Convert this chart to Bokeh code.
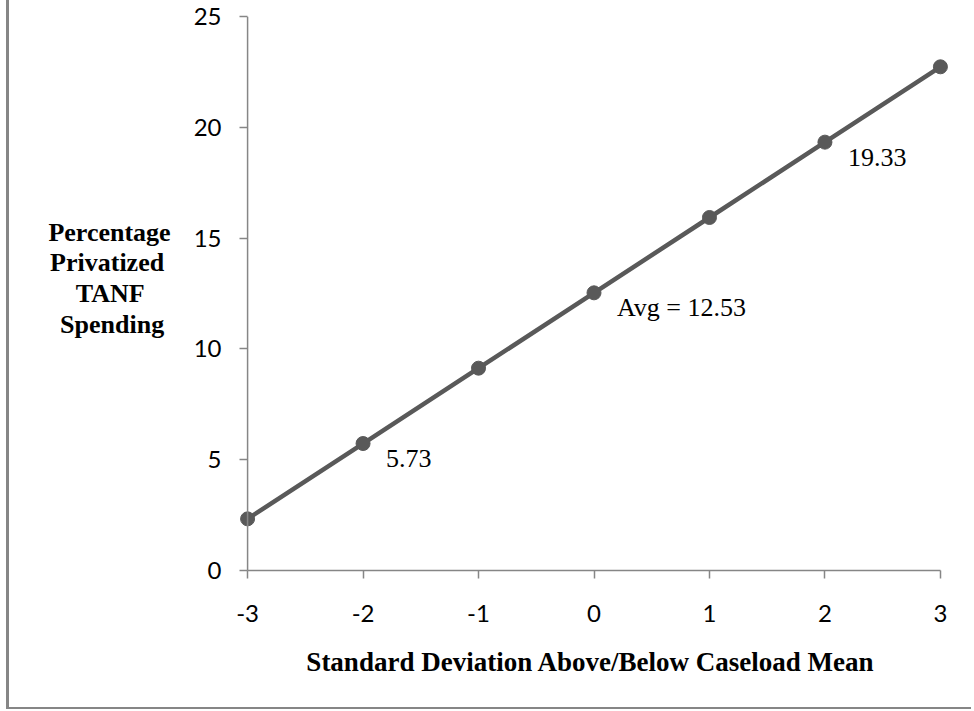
from bokeh.plotting import figure
from bokeh.models import ColumnDataSource, FixedTicker, Label, Range1d, Title, Span
from bokeh.embed import file_html
from bokeh.resources import INLINE

# Standard deviations of caseload from the mean, and predicted privatized share
sd_from_mean = [-3, -2, -1, 0, 1, 2, 3]
pct_privatized = [2.33, 5.73, 9.13, 12.53, 15.93, 19.33, 22.73]

# Points that carry a value label
labelled_idx = [1, 3, 5]
label_texts = ["5.73", "Avg = 12.53", "19.33"]

y_ticks = [0, 5, 10, 15, 20, 25]
x_ticks = [-3, -2, -1, 0, 1, 2, 3]

y_title_lines = ["Percentage", "Privatized", "TANF", "Spending"]
x_title = "Standard Deviation Above/Below  Caseload Mean"

AXIS_GRAY = "#868686"
LINE_GRAY = "#595959"

# a little horizontal room so the end markers are not cut by the frame
pad = 0.07
p = figure(
    width=965, height=709,
    x_range=Range1d(x_ticks[0] - pad, x_ticks[-1] + pad),
    y_range=Range1d(y_ticks[0], y_ticks[-1]),
    output_backend="svg", toolbar_location=None,
    min_border_left=230, min_border_right=26,
    min_border_top=16, min_border_bottom=139,
)
p.margin = (0, 0, 0, 6)
p.styles = {"border-left": "3px solid #868686", "border-bottom": "2px solid #868686"}
p.outline_line_color = None
p.grid.grid_line_color = None
p.background_fill_color = "white"
p.border_fill_color = "white"

for ax in (p.xaxis[0], p.yaxis[0]):
    ax.axis_line_color = AXIS_GRAY
    ax.axis_line_width = 1.5
    ax.major_tick_line_color = AXIS_GRAY
    ax.major_tick_line_width = 1.5
    ax.minor_tick_line_color = None
    ax.major_label_text_font = "Lato"
    ax.major_label_text_font_size = "24px"
    ax.major_label_text_color = "black"

p.xaxis.ticker = FixedTicker(ticks=x_ticks)
p.xaxis.bounds = (x_ticks[0], x_ticks[-1])
p.xaxis.major_tick_in = 0
p.xaxis.major_tick_out = 8
p.xaxis.major_label_overrides = {t: str(t) for t in x_ticks}
p.xaxis.major_label_standoff = 26

# vertical axis line sits on x = -3; ticks reach from the frame edge to it
p.yaxis.ticker = FixedTicker(ticks=y_ticks)
p.yaxis.axis_line_color = None
p.yaxis.major_tick_in = 8
p.yaxis.major_tick_out = 0
p.yaxis.major_label_standoff = 18
p.add_layout(Span(location=x_ticks[0], dimension="height",
                  line_color=AXIS_GRAY, line_width=1.5))

# Y-axis title, horizontal and stacked; the axis right-aligns its lines,
# so shorter lines get trailing no-break spaces to sit centred
NBSP = "\u00a0"
centring = [0, 1, 4, 1]
y_label = "\n".join(t + NBSP * n for t, n in zip(y_title_lines, centring)) + "\n"
p.yaxis.axis_label = y_label
p.yaxis.axis_label_orientation = "horizontal"
p.yaxis.axis_label_text_font = "Liberation Serif"
p.yaxis.axis_label_text_font_style = "bold"
p.yaxis.axis_label_text_font_size = "26px"
p.yaxis.axis_label_text_line_height = 1.06
p.yaxis.axis_label_text_color = "black"
p.yaxis.axis_label_standoff = 20

src = ColumnDataSource(dict(x=sd_from_mean, y=pct_privatized))
p.line("x", "y", source=src, line_color=LINE_GRAY, line_width=4.5)
p.scatter("x", "y", source=src, size=14, fill_color=LINE_GRAY, line_color=LINE_GRAY)

for i, txt in zip(labelled_idx, label_texts):
    p.add_layout(Label(
        x=sd_from_mean[i], y=pct_privatized[i], text=txt,
        x_offset=23, y_offset=-15,
        text_font="Liberation Serif", text_font_size="26px",
        text_baseline="middle", text_align="left", text_color="black",
    ))

# X-axis title
p.add_layout(Title(
    text=x_title,
    align="center", standoff=40,
    text_font="Liberation Serif", text_font_style="bold", text_font_size="27px",
    text_color="black",
), "below")

open("out.html", "w").write(file_html(p, INLINE))
